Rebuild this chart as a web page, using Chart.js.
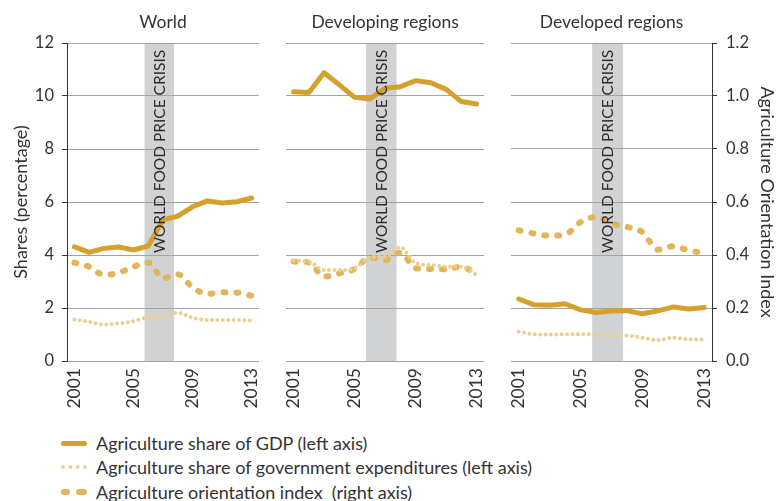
<!DOCTYPE html>
<html>
<head>
<meta charset="utf-8">
<script src="https://cdn.jsdelivr.net/npm/chart.js@4.4.1/dist/chart.umd.min.js"></script>
<style>
  body { margin: 0; background: #fff; font-family: Lato, sans-serif; color: #333; }
  #wrap { position: relative; width: 776px; height: 501px; overflow: hidden; }
  canvas { position: absolute; top: 0; }
  .legend { position: absolute; left: 61px; font-size: 18px; }
  .row { position: absolute; left: 0; white-space: nowrap; height: 22px; line-height: 22px; }
  .row span.txt { position: absolute; left: 35px; top: 0; }
  .g { position: absolute; left: 0; top: 11px; }
</style>
</head>
<body>
<div id="wrap">
  <canvas id="c1" width="280" height="420" style="left:0px"></canvas>
  <canvas id="c2" width="225" height="420" style="left:280px"></canvas>
  <canvas id="c3" width="271" height="420" style="left:505px"></canvas>
  <div class="legend">
    <div class="row" style="top:432px">
      <div class="g" style="width:26px;height:5px;margin-top:-2.5px;border-radius:3px;background:#d5a12b"></div>
      <span class="txt">Agriculture share of GDP (left axis)</span>
    </div>
    <div class="row" style="top:456px">
      <div class="g" style="width:26px;height:0;margin-top:-2px;border-top:4px dotted #eccf90"></div>
      <span class="txt">Agriculture share of government expenditures (left axis)</span>
    </div>
    <div class="row" style="top:481px">
      <div class="g" style="width:9px;height:6px;margin-top:-3px;border-radius:3px;background:#e2b55a"></div>
      <div class="g" style="left:15px;width:11px;height:6px;margin-top:-3px;border-radius:3px;background:#e2b55a"></div>
      <span class="txt">Agriculture orientation index&nbsp; (right axis)</span>
    </div>
  </div>
</div>
<script>
const years = [2001, 2002, 2003, 2004, 2005, 2006, 2007, 2008, 2009, 2010, 2011, 2012, 2013];
const xTicks = [2001, 2005, 2009, 2013];
const leftTicks = [0, 2, 4, 6, 8, 10, 12];
const rightTicks = [0, 0.2, 0.4, 0.6, 0.8, 1.0, 1.2];
const crisis = [2005.75, 2007.75];
const crisisLabel = "WORLD FOOD PRICE CRISIS";
const panelTitles = ["World", "Developing regions", "Developed regions"];
const seriesNames = [
  "Agriculture share of GDP (left axis)",
  "Agriculture share of government expenditures (left axis)",
  "Agriculture orientation index  (right axis)"
];

// World
const worldGdp = [4.31, 4.10, 4.25, 4.30, 4.19, 4.34, 5.32, 5.47, 5.82, 6.04, 5.96, 6.01, 6.15];
const worldGov = [1.57, 1.48, 1.38, 1.42, 1.50, 1.65, 1.67, 1.82, 1.63, 1.55, 1.55, 1.55, 1.52];
const worldAoi = [0.371, 0.356, 0.325, 0.333, 0.356, 0.372, 0.312, 0.327, 0.278, 0.253, 0.259, 0.258, 0.246];
// Developing regions
const devGdp = [10.16, 10.13, 10.88, 10.42, 9.95, 9.89, 10.29, 10.35, 10.58, 10.50, 10.25, 9.79, 9.70];
const devGov = [3.79, 3.75, 3.43, 3.43, 3.50, 3.91, 3.94, 4.29, 3.69, 3.62, 3.56, 3.56, 3.25];
const devAoi = [0.375, 0.372, 0.318, 0.331, 0.347, 0.391, 0.381, 0.409, 0.350, 0.347, 0.346, 0.356, 0.327];
// Developed regions
const dvdGdp = [2.34, 2.12, 2.10, 2.16, 1.93, 1.83, 1.89, 1.90, 1.78, 1.89, 2.04, 1.96, 2.02];
const dvdGov = [1.10, 1.01, 1.00, 1.01, 1.01, 1.00, 0.96, 0.96, 0.88, 0.79, 0.88, 0.82, 0.81];
const dvdAoi = [0.493, 0.481, 0.473, 0.477, 0.524, 0.544, 0.519, 0.506, 0.486, 0.420, 0.433, 0.417, 0.408];

Chart.defaults.font.family = "Lato, sans-serif";
Chart.defaults.color = "#333";

const GRID = "#a3a3a3";
const INK = "#333";

function pts(arr) {
  return years.map((x, i) => ({ x: x, y: arr[i] }));
}

// grey band + label for the food price crisis
const crisisBand = {
  id: "crisisBand",
  beforeDraw(chart) {
    const { ctx, chartArea, scales } = chart;
    const x0 = scales.x.getPixelForValue(crisis[0]);
    const x1 = scales.x.getPixelForValue(crisis[1]);
    ctx.save();
    ctx.fillStyle = "#d1d2d4";
    ctx.fillRect(x0, chartArea.top, x1 - x0, chartArea.bottom - chartArea.top);
    ctx.restore();
  },
  afterDatasetsDraw(chart) {
    const { ctx, scales } = chart;
    const cx = (scales.x.getPixelForValue(crisis[0]) + scales.x.getPixelForValue(crisis[1])) / 2;
    ctx.save();
    ctx.translate(cx + 0.5, 253);
    ctx.rotate(-Math.PI / 2);
    ctx.font = "15.5px Lato, sans-serif";
    ctx.fillStyle = "#2b2b2b";
    ctx.textAlign = "left";
    ctx.textBaseline = "middle";
    ctx.fillText(crisisLabel, 0, 0);
    ctx.restore();
  }
};

const panelTitle = {
  id: "panelTitle",
  afterDraw(chart) {
    const { ctx, chartArea } = chart;
    ctx.save();
    ctx.font = "17.5px Lato, sans-serif";
    ctx.fillStyle = INK;
    ctx.textAlign = "center";
    ctx.textBaseline = "middle";
    ctx.fillText(chart.options.plugins.panelTitle.text, (chartArea.left + chartArea.right) / 2, 22);
    ctx.restore();
  }
};

function makeChart(id, title, gdp, gov, aoi, pad, mode) {
  const xScale = {
    type: "linear",
    min: 2000.5,
    max: 2013.5,
    afterBuildTicks: s => { s.ticks = xTicks.map(v => ({ value: v })); },
    afterFit: s => { s.height = 420 - 361; },
    grid: { display: false, drawTicks: false },
    border: { display: false },
    ticks: {
      autoSkip: false, maxRotation: 90, minRotation: 90, padding: 7,
      font: { size: 17.5 }, color: INK,
      callback: v => String(v)
    }
  };
  const yScale = {
    position: "left",
    min: 0, max: 12,
    afterBuildTicks: s => { s.ticks = leftTicks.map(v => ({ value: v })); },
    grid: { color: GRID, tickColor: INK, tickLength: 5 },
    border: { color: INK },
    ticks: { padding: 8, font: { size: 16.5 }, color: INK },
    title: { display: false }
  };
  const y1Scale = {
    position: "right",
    min: 0, max: 1.2,
    display: false,
    afterBuildTicks: s => { s.ticks = rightTicks.map(v => ({ value: v })); }
  };
  if (mode === "left") {
    yScale.afterFit = s => { s.width = 67; };
    yScale.title = {
      display: true, text: "Shares (percentage)",
      font: { size: 18, lineHeight: 1 }, padding: { top: 12, bottom: 0 }, color: INK
    };
  } else {
    yScale.afterFit = s => { s.width = 0; };
    yScale.ticks = { display: false };
    yScale.border = { display: false };
    yScale.grid = { color: GRID, drawTicks: false };
  }
  if (mode === "right") {
    yScale.display = false;
    y1Scale.display = true;
    y1Scale.afterFit = s => { s.width = 64; };
    y1Scale.grid = { color: GRID, tickColor: INK, tickLength: 5 };
    y1Scale.border = { color: INK };
    y1Scale.ticks = { padding: 9, font: { size: 16.5 }, color: INK, callback: v => v.toFixed(1) };
    y1Scale.title = {
      display: true, text: "Agriculture Orientation Index",
      font: { size: 18, lineHeight: 1 }, padding: { top: 0, bottom: 0 }, color: INK
    };
  }

  return new Chart(document.getElementById(id), {
    type: "line",
    data: {
      datasets: [
        {
          label: seriesNames[0], data: pts(gdp), yAxisID: "y",
          borderColor: "#d5a12b", borderWidth: 5, pointRadius: 0,
          borderCapStyle: "round", borderJoinStyle: "round", tension: 0
        },
        {
          label: seriesNames[1], data: pts(gov), yAxisID: "y",
          borderColor: "#eccf90", borderWidth: 4, pointRadius: 0,
          borderDash: [0, 5.4], borderCapStyle: "round", borderJoinStyle: "round",
          cubicInterpolationMode: "monotone"
        },
        {
          label: seriesNames[2], data: pts(aoi), yAxisID: "y1",
          borderColor: "#e2b55a", borderWidth: 6, pointRadius: 0,
          borderDash: [2, 11], borderCapStyle: "round", borderJoinStyle: "round",
          cubicInterpolationMode: "monotone"
        }
      ]
    },
    options: {
      responsive: false,
      animation: false,
      layout: { padding: { top: 43, left: pad[0], right: pad[1], bottom: 0 } },
      scales: { x: xScale, y: yScale, y1: y1Scale },
      plugins: {
        legend: { display: false },
        tooltip: { enabled: false },
        panelTitle: { text: title }
      }
    },
    plugins: [crisisBand, panelTitle]
  });
}

makeChart("c1", panelTitles[0], worldGdp, worldGov, worldAoi, [0, 10], "left");
makeChart("c2", panelTitles[1], devGdp, devGov, devAoi, [6, 10], "mid");
makeChart("c3", panelTitles[2], dvdGdp, dvdGov, dvdAoi, [6, 0], "right");
</script>
</body>
</html>
